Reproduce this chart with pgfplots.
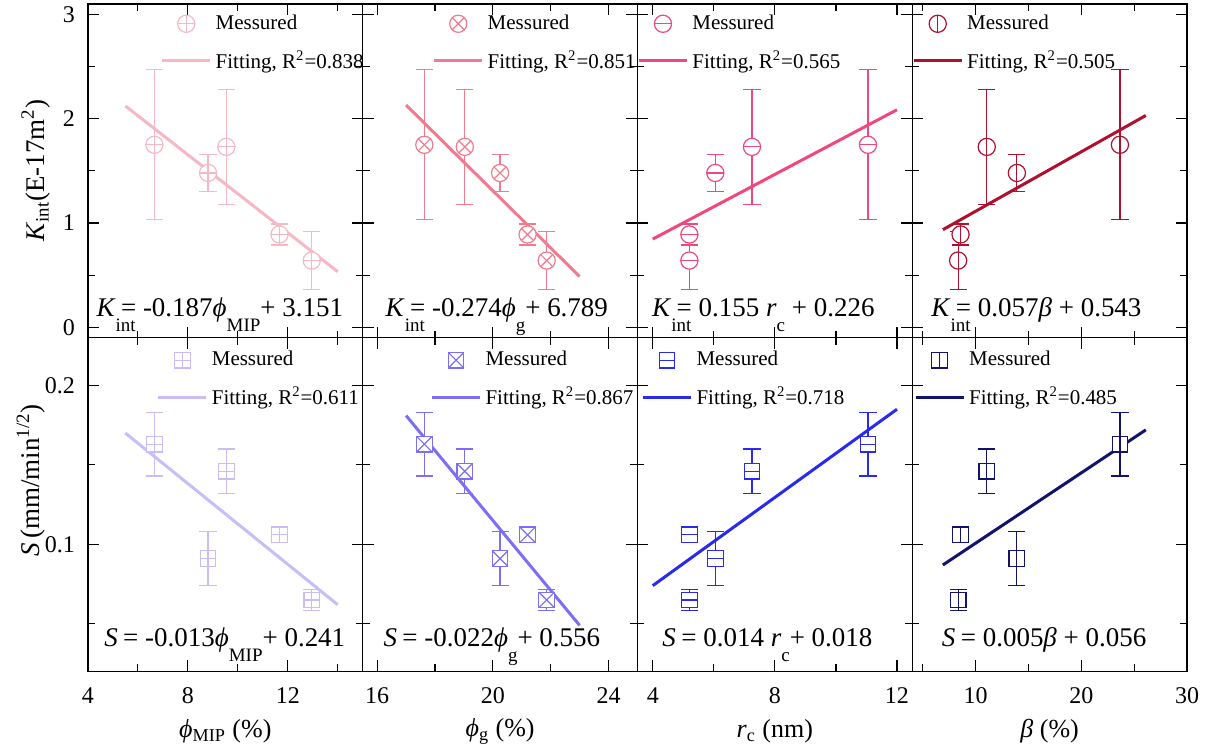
\documentclass[border=0pt]{standalone}
\usepackage{fontspec}
\setmainfont{Liberation Serif}
\usepackage{pgfplots}
\usepackage{pgfplotstable}
\pgfplotsset{compat=1.18}
\usepgfplotslibrary{groupplots}
\usetikzlibrary{calc,plotmarks}

\definecolor{cA}{HTML}{F5B8C4}
\definecolor{cB}{HTML}{F27A8E}
\definecolor{cC}{HTML}{F0487C}
\definecolor{cD}{HTML}{B00F2E}
\definecolor{cE}{HTML}{C9BDF8}
\definecolor{cF}{HTML}{7C6EF5}
\definecolor{cG}{HTML}{2A2AEE}
\definecolor{cH}{HTML}{13136E}

\pgfdeclareplotmark{cplus}{%
 \pgfpathcircle{\pgfpointorigin}{\pgfplotmarksize}\pgfusepathqfillstroke
 \pgfpathmoveto{\pgfqpoint{-\pgfplotmarksize}{0pt}}\pgfpathlineto{\pgfqpoint{\pgfplotmarksize}{0pt}}%
 \pgfpathmoveto{\pgfqpoint{0pt}{-\pgfplotmarksize}}\pgfpathlineto{\pgfqpoint{0pt}{\pgfplotmarksize}}%
 \pgfusepathqstroke}
\pgfdeclareplotmark{ctimes}{%
 \pgfpathcircle{\pgfpointorigin}{\pgfplotmarksize}\pgfusepathqfillstroke
 \pgfpathmoveto{\pgfqpoint{-.7071\pgfplotmarksize}{-.7071\pgfplotmarksize}}\pgfpathlineto{\pgfqpoint{.7071\pgfplotmarksize}{.7071\pgfplotmarksize}}%
 \pgfpathmoveto{\pgfqpoint{-.7071\pgfplotmarksize}{.7071\pgfplotmarksize}}\pgfpathlineto{\pgfqpoint{.7071\pgfplotmarksize}{-.7071\pgfplotmarksize}}%
 \pgfusepathqstroke}
\pgfdeclareplotmark{cminus}{%
 \pgfpathcircle{\pgfpointorigin}{\pgfplotmarksize}\pgfusepathqfillstroke
 \pgfpathmoveto{\pgfqpoint{-\pgfplotmarksize}{0pt}}\pgfpathlineto{\pgfqpoint{\pgfplotmarksize}{0pt}}%
 \pgfusepathqstroke}
\pgfdeclareplotmark{cvbar}{%
 \pgfpathcircle{\pgfpointorigin}{\pgfplotmarksize}\pgfusepathqfillstroke
 \pgfpathmoveto{\pgfqpoint{0pt}{-\pgfplotmarksize}}\pgfpathlineto{\pgfqpoint{0pt}{\pgfplotmarksize}}%
 \pgfusepathqstroke}
\pgfdeclareplotmark{splus}{%
 \pgfpathrectangle{\pgfqpoint{-\pgfplotmarksize}{-\pgfplotmarksize}}{\pgfqpoint{2\pgfplotmarksize}{2\pgfplotmarksize}}\pgfusepathqfillstroke
 \pgfpathmoveto{\pgfqpoint{-\pgfplotmarksize}{0pt}}\pgfpathlineto{\pgfqpoint{\pgfplotmarksize}{0pt}}%
 \pgfpathmoveto{\pgfqpoint{0pt}{-\pgfplotmarksize}}\pgfpathlineto{\pgfqpoint{0pt}{\pgfplotmarksize}}%
 \pgfusepathqstroke}
\pgfdeclareplotmark{stimes}{%
 \pgfpathrectangle{\pgfqpoint{-\pgfplotmarksize}{-\pgfplotmarksize}}{\pgfqpoint{2\pgfplotmarksize}{2\pgfplotmarksize}}\pgfusepathqfillstroke
 \pgfpathmoveto{\pgfqpoint{-\pgfplotmarksize}{-\pgfplotmarksize}}\pgfpathlineto{\pgfqpoint{\pgfplotmarksize}{\pgfplotmarksize}}%
 \pgfpathmoveto{\pgfqpoint{-\pgfplotmarksize}{\pgfplotmarksize}}\pgfpathlineto{\pgfqpoint{\pgfplotmarksize}{-\pgfplotmarksize}}%
 \pgfusepathqstroke}
\pgfdeclareplotmark{sminus}{%
 \pgfpathrectangle{\pgfqpoint{-\pgfplotmarksize}{-\pgfplotmarksize}}{\pgfqpoint{2\pgfplotmarksize}{2\pgfplotmarksize}}\pgfusepathqfillstroke
 \pgfpathmoveto{\pgfqpoint{-\pgfplotmarksize}{0pt}}\pgfpathlineto{\pgfqpoint{\pgfplotmarksize}{0pt}}%
 \pgfusepathqstroke}
\pgfdeclareplotmark{svbar}{%
 \pgfpathrectangle{\pgfqpoint{-\pgfplotmarksize}{-\pgfplotmarksize}}{\pgfqpoint{2\pgfplotmarksize}{2\pgfplotmarksize}}\pgfusepathqfillstroke
 \pgfpathmoveto{\pgfqpoint{0pt}{-\pgfplotmarksize}}\pgfpathlineto{\pgfqpoint{0pt}{\pgfplotmarksize}}%
 \pgfusepathqstroke}

\pgfplotstableread{
pmip pg rc beta K Ke S Se
6.66 17.63 11.05 23.65 1.75 0.72 0.163 0.020
8.81 20.25 6.05 13.90 1.48 0.18 0.091 0.017
9.54 19.03 7.25 11.05 1.73 0.55 0.146 0.014
11.67 21.20 5.20 8.57 0.89 0.10 0.106 0.0015
12.96 21.86 5.20 8.34 0.64 0.28 0.065 0.0065
}\data

\newcommand{\sub}[1]{\raisebox{-0.55em}{\fontsize{9.5}{10}\selectfont #1}}
\newcommand{\eqf}{\fontsize{13.5}{16}\selectfont}

\pgfplotsset{
  meas/.style={only marks, mark size=#1, mark options={fill=white, line width=0.6pt, solid},
    legend image code/.code={\draw[##1] plot coordinates {(12pt,0pt)};},
    error bars/y dir=both, error bars/y explicit,
    error bars/error bar style={line width=0.6pt},
    error bars/error mark options={rotate=90, mark size=4.3pt, line width=0.6pt}},
  meas/.default=4.3pt,
  fit/.style={line width=1.5pt, no marks,
    legend image code/.code={\draw[##1] (0pt,0pt) -- (24pt,0pt);}},
}

\begin{document}
\begin{tikzpicture}
\begin{groupplot}[
  group style={group name=G, group size=4 by 2, horizontal sep=0pt, vertical sep=0pt,
    xticklabels at=edge bottom, yticklabels at=edge left},
  width=137.5pt, height=167pt, scale only axis,
  axis line style={line width=0.75pt},
  tick align=inside, major tick length=5.5pt, minor tick length=3.5pt,
  every tick/.style={black, line width=0.6pt},
  /pgf/number format/assume math mode=true,
  xticklabel style={font=\fontsize{12}{14}\selectfont, yshift=-4.5pt},
  yticklabel style={font=\fontsize{12}{14}\selectfont, xshift=-3pt},
  every axis x label/.style={at={(rel axis cs:0.5,0)}, anchor=center, yshift=-30pt, font=\fontsize{13}{15}\selectfont},
  every axis y label/.style={at={(rel axis cs:-0.19,0.5)}, anchor=center, rotate=90, font=\fontsize{13.5}{15}\selectfont},
  legend style={draw=none, fill=none, anchor=north west, inner sep=0pt, outer sep=0pt,
    font=\fontsize{10.5}{12}\selectfont, row sep=7pt, nodes={inner sep=1pt},
    /tikz/every odd column/.append style={column sep=1pt}},
  legend cell align=left,
]
% ---------- top row ----------
\nextgroupplot[xmin=4, xmax=15, xtick={4,8,12}, minor xtick={6,10,14},
  ymin=-0.1, ymax=3.1, ytick={0,1,2,3}, minor ytick={0.5,1.5,2.5},
  ylabel={\textit{K}\textsubscript{int}(E-17m\textsuperscript{2})},
  legend style={at={(rel axis cs:0.265,0.973)}}]
\addplot[cA, mark=cplus, meas] table[x=pmip, y=K, y error=Ke]{\data};
\addlegendentry{Messured}
\addplot[cA, fit] coordinates {(5.5,2.122) (14,0.533)};
\addlegendentry{Fitting, R\textsuperscript{2}=0.838}
\node[anchor=base, font=\eqf] at (rel axis cs:0.48,0.063) {\textit{K}\rlap{\sub{int}}\hspace{0.2em}= -0.187\textit{ϕ}\sub{MIP}+ 3.151};

\nextgroupplot[xmin=15.5, xmax=25, xtick={16,20,24}, minor xtick={18,22},
  ymin=-0.1, ymax=3.1, ytick={0,1,2,3}, minor ytick={0.5,1.5,2.5},
  legend style={at={(rel axis cs:0.255,0.973)}}]
\addplot[cB, mark=ctimes, meas] table[x=pg, y=K, y error=Ke]{\data};
\addlegendentry{Messured}
\addplot[cB, fit] coordinates {(17,2.131) (23,0.487)};
\addlegendentry{Fitting, R\textsuperscript{2}=0.851}
\node[anchor=base, font=\eqf] at (rel axis cs:0.488,0.063) {\textit{K}\rlap{\sub{int}}\hspace{0.2em}= -0.274\textit{ϕ}\sub{g}+ 6.789};

\nextgroupplot[xmin=3.5, xmax=12.5, xtick={4,8,12}, minor xtick={6,10},
  ymin=-0.1, ymax=3.1, ytick={0,1,2,3}, minor ytick={0.5,1.5,2.5},
  legend style={at={(rel axis cs:0.0,0.973)}}]
\addplot[cC, mark=cminus, meas] table[x=rc, y=K, y error=Ke]{\data};
\addlegendentry{Messured}
\addplot[cC, fit] coordinates {(4,0.846) (12,2.086)};
\addlegendentry{Fitting, R\textsuperscript{2}=0.565}
\node[anchor=base, font=\eqf] at (rel axis cs:0.458,0.063) {\textit{K}\rlap{\sub{int}}\hspace{0.2em}= 0.155 \textit{r}\sub{c} + 0.226};

\nextgroupplot[xmin=4, xmax=30, xtick={10,20,30}, minor xtick={5,15,25},
  ymin=-0.1, ymax=3.1, ytick={0,1,2,3}, minor ytick={0.5,1.5,2.5},
  legend style={at={(rel axis cs:0.0,0.973)}}]
\addplot[cD, mark=cvbar, meas] table[x=beta, y=K, y error=Ke]{\data};
\addlegendentry{Messured}
\addplot[cD, fit] coordinates {(6.9,0.936) (26.1,2.031)};
\addlegendentry{Fitting, R\textsuperscript{2}=0.505}
\node[anchor=base, font=\eqf] at (rel axis cs:0.452,0.063) {\textit{K}\rlap{\sub{int}}\hspace{0.2em}= 0.057\textit{β} + 0.543};

% ---------- bottom row ----------
\nextgroupplot[xmin=4, xmax=15, xtick={4,8,12}, minor xtick={6,10,14},
  ymin=0.02, ymax=0.23, ytick={0.1,0.2}, minor ytick={0.05,0.15},
  xlabel={\textit{ϕ}\textsubscript{MIP} (\%)},
  ylabel={\textit{S}\,(mm/min\textsuperscript{1/2})},
  every axis y label/.append style={at={(rel axis cs:-0.207,0.572)}},
  legend style={at={(rel axis cs:0.251,0.965)}}]
\addplot[cE, mark=splus, meas=3.9pt] table[x=pmip, y=S, y error=Se]{\data};
\addlegendentry{Messured}
\addplot[cE, fit] coordinates {(5.5,0.170) (14,0.062)};
\addlegendentry{Fitting, R\textsuperscript{2}=0.611}
\node[anchor=base, font=\eqf] at (rel axis cs:0.498,0.075) {\textit{S}\hspace{0.2em}= -0.013\textit{ϕ}\sub{MIP}+ 0.241};

\nextgroupplot[xmin=15.5, xmax=25, xtick={16,20,24}, minor xtick={18,22},
  ymin=0.02, ymax=0.23, ytick={0.1,0.2}, minor ytick={0.05,0.15},
  xlabel={\textit{ϕ}\textsubscript{g} (\%)},
  legend style={at={(rel axis cs:0.247,0.965)}}]
\addplot[cF, mark=stimes, meas=3.9pt] table[x=pg, y=S, y error=Se]{\data};
\addlegendentry{Messured}
\addplot[cF, fit] coordinates {(17,0.181) (23,0.049)};
\addlegendentry{Fitting, R\textsuperscript{2}=0.867}
\node[anchor=base, font=\eqf] at (rel axis cs:0.47,0.075) {\textit{S}\hspace{0.2em}= -0.022\textit{ϕ}\sub{g}+ 0.556};

\nextgroupplot[xmin=3.5, xmax=12.5, xtick={4,8,12}, minor xtick={6,10},
  ymin=0.02, ymax=0.23, ytick={0.1,0.2}, minor ytick={0.05,0.15},
  xlabel={\textit{r}\textsubscript{c} (nm)},
  legend style={at={(rel axis cs:0.015,0.965)}}]
\addplot[cG, mark=sminus, meas=3.9pt] table[x=rc, y=S, y error=Se]{\data};
\addlegendentry{Messured}
\addplot[cG, fit] coordinates {(4,0.074) (12,0.185)};
\addlegendentry{Fitting, R\textsuperscript{2}=0.718}
\node[anchor=base, font=\eqf] at (rel axis cs:0.473,0.075) {\textit{S}\hspace{0.2em}= 0.014 \textit{r}\sub{c}+ 0.018};

\nextgroupplot[xmin=4, xmax=30, xtick={10,20,30}, minor xtick={5,15,25},
  ymin=0.02, ymax=0.23, ytick={0.1,0.2}, minor ytick={0.05,0.15},
  xlabel={\textit{β} (\%)},
  legend style={at={(rel axis cs:0.007,0.965)}}]
\addplot[cH, mark=svbar, meas=3.9pt] table[x=beta, y=S, y error=Se]{\data};
\addlegendentry{Messured}
\addplot[cH, fit] coordinates {(6.9,0.087) (26.1,0.172)};
\addlegendentry{Fitting, R\textsuperscript{2}=0.485}
\node[anchor=base, font=\eqf] at (rel axis cs:0.48,0.075) {\textit{S}\hspace{0.2em}= 0.005\textit{β} + 0.056};
\end{groupplot}
\pgfresetboundingbox
\path[use as bounding box] ($(G c1r1.north west)+(-44pt,2pt)$) rectangle ($(G c4r2.south east)+(16pt,-40.5pt)$);
\end{tikzpicture}
\end{document}
